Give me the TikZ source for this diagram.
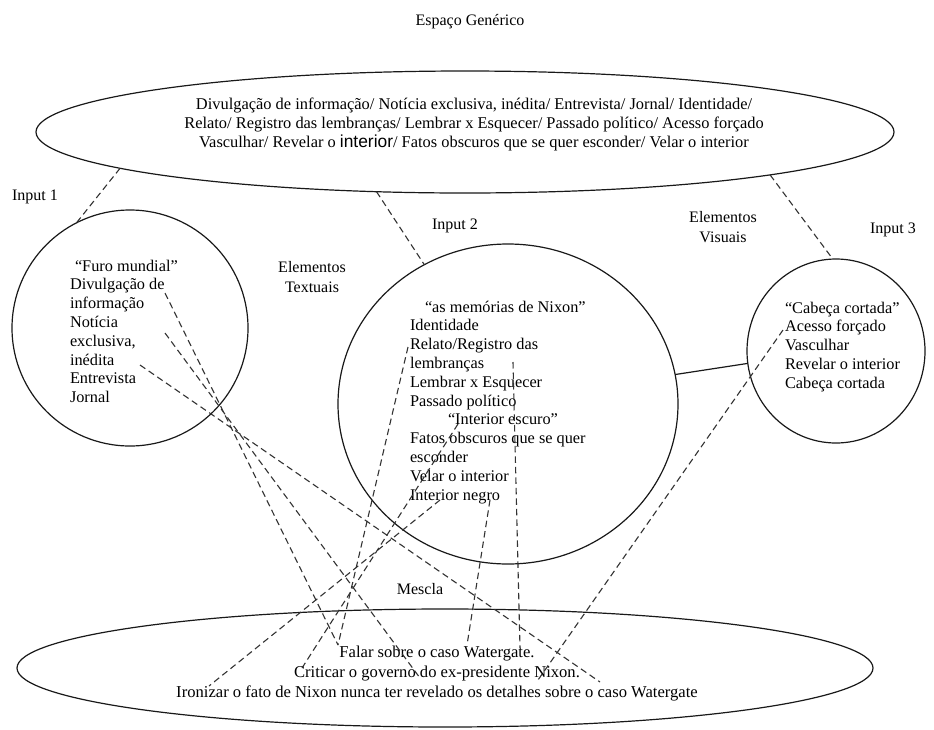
\documentclass[tikz,border=0pt]{standalone}
\usepackage{fontspec}
\setmainfont{Liberation Serif}
\newfontfamily\sansword{Liberation Sans}
\usetikzlibrary{shapes.geometric}

\begin{document}
\begin{tikzpicture}[x=1pt,y=-1pt,
  every node/.style={inner sep=0pt, outer sep=0pt},
  txt/.style={font=\fontsize{16.3}{18.8}\selectfont, align=left},
  ctxt/.style={font=\fontsize{16.6}{20}\selectfont, align=center},
  lbl/.style={font=\fontsize{16}{19.5}\selectfont, align=center},
  oval/.style={draw=black!90, ellipse, line width=1.2pt, inner sep=0pt},
  link/.style={draw=black!80, line width=1.1pt, dash pattern=on 6.5pt off 4pt},
  tie/.style={draw=black!90, line width=1.2pt},
]
\useasboundingbox (0,0) rectangle (934,729);
\fill[white] (0,0) rectangle (934,729);

% frames: generic space, three inputs, blend
\node[oval, minimum width=858pt, minimum height=122pt] (gen) at (465,132) {};
\node[oval, minimum width=236pt, minimum height=236pt] (in1) at (130,328) {};
\node[oval, minimum width=340pt, minimum height=320pt] (in2) at (508,404) {};
\node[oval, minimum width=178pt, minimum height=184pt] (in3) at (836,351) {};
\node[oval, minimum width=856pt, minimum height=118pt] (mix) at (445,668) {};

% labels
\node[lbl] (tgen) at (470,22) {Espaço Genérico};
\node[lbl] (tin1) at (35,197) {Input 1};
\node[lbl] (tin2) at (455,226) {Input 2};
\node[lbl] (tin3) at (893,230) {Input 3};
\node[lbl] (ttex) at (312,277) {Elementos\\Textuais};
\node[lbl] (tvis) at (723,227) {Elementos\\Visuais};
\node[lbl] (tmix) at (420,589) {Mescla};

% contents
\node[ctxt, font=\fontsize{16.4}{19.2}\selectfont, anchor=north] (cgen) at (474,97.7) {%
Divulgação de informação/ Notícia exclusiva, inédita/ Entrevista/ Jornal/ Identidade/\\
Relato/ Registro das lembranças/ Lembrar x Esquecer/ Passado político/ Acesso forçado\\
Vasculhar/ Revelar o {\sansword\fontsize{17.4}{19.2}\selectfont interior}/ Fatos obscuros que se quer esconder/ Velar o interior};

\node[txt, anchor=north west] (cin1) at (70,259.7) {%
\hspace*{5pt}“Furo mundial”\\
Divulgação de\\
informação\\
Notícia\\
exclusiva,\\
inédita\\
Entrevista\\
Jornal};

\node[txt, anchor=north west] (cin2) at (410,300.7) {%
\hspace*{15pt}“as memórias de Nixon”\\
Identidade\\
Relato/Registro das\\
lembranças\\
Lembrar x Esquecer\\
Passado político\\
\hspace*{38pt}“Interior escuro”\\
Fatos obscuros que se quer\\
esconder\\
Velar o interior\\
Interior negro};

\node[txt, anchor=north west] (cin3) at (785,301.7) {%
“Cabeça cortada”\\
Acesso forçado\\
Vasculhar\\
Revelar o interior\\
Cabeça cortada};

\node[ctxt, anchor=north] (cmix) at (437,645.7) {%
Falar sobre o caso Watergate.\\
Criticar o governo do ex-presidente Nixon.\\
Ironizar o fato de Nixon nunca ter revelado os detalhes sobre o caso Watergate};

% ends of the mapping links
\coordinate (aDiv) at (165,293);
\coordinate (aNot) at (165,333);
\coordinate (aIne) at (140,365);
\coordinate (aRel) at (408,347);
\coordinate (aEsc) at (458,424);
\coordinate (aNeg) at (490,500);
\coordinate (aLem) at (513,362);
\coordinate (aInt) at (440,500);
\coordinate (aAce) at (783,330);
\coordinate (bFal) at (338,645);
\coordinate (bGov) at (420,678);
\coordinate (bNix) at (600,682);
\coordinate (bCri) at (302,668);
\coordinate (bWat) at (467,645);
\coordinate (bGat) at (520,648);
\coordinate (bIro) at (209,686);
\coordinate (bNx) at (538,680);

% generic space to inputs
\draw[link] (gen.186) -- (in1.117.4);
\draw[link] (gen.-146.3) -- (in2.121.8);
\draw[link] (gen.-8.2) -- (in3.92.4);
\draw[tie] (in2.10.5) -- (in3.188);

% projections into the blend
\draw[link] (aDiv) -- (bFal);
\draw[link] (aNot) -- (bGov);
\draw[link] (aIne) -- (bNix);
\draw[link] (aRel) -- (bFal);
\draw[link] (aEsc) -- (bCri);
\draw[link] (aNeg) -- (bWat);
\draw[link] (aLem) -- (bGat);
\draw[link] (aInt) -- (bIro);
\draw[link] (aAce) -- (bNx);
\end{tikzpicture}
\end{document}
